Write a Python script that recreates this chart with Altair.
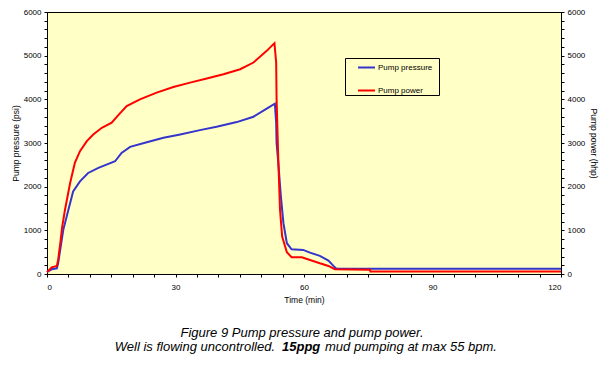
import altair as alt
import pandas as pd

# Pump pressure (psi) - left axis
p_time = [0, 1.1, 2.3, 2.6, 3.2, 3.8, 5.0, 6.1, 7.7, 9.6, 12.0, 13.9, 15.9, 17.4, 19.4,
          23.3, 27.2, 31.1, 35.7, 39.6, 44.3, 48.2, 51.3, 53.2, 53.5, 53.6, 54.0, 54.6,
          55.2, 56.0, 57.1, 59.8, 61.4, 63.7, 65.7, 67.2, 67.6, 120]
p_val = [50, 108, 130, 245, 628, 1011, 1471, 1892, 2122, 2314, 2429, 2506, 2582, 2774, 2912,
         3019, 3119, 3195, 3295, 3372, 3479, 3602, 3786, 3900, 3464, 3004, 2544, 1778,
         1165, 705, 567, 552, 490, 414, 306, 153, 120, 120]

# Pump power (hhp) - right axis
w_time = [0, 1.1, 2.3, 2.6, 3.2, 3.5, 4.2, 5.4, 6.5, 7.7, 9.3, 10.8, 12.8, 15.1, 16.6,
          18.6, 21.7, 25.6, 29.5, 33.4, 37.3, 41.2, 45.1, 48.2, 51.3, 53.1, 53.5, 53.6,
          54.0, 54.4, 54.9, 56.0, 57.1, 59.5, 61.4, 63.7, 65.7, 67.2, 75.4, 75.5, 120]
w_val = [40, 153, 184, 322, 782, 1050, 1471, 2084, 2544, 2812, 3042, 3195, 3349, 3464, 3632,
         3846, 4000, 4153, 4283, 4383, 4475, 4575, 4690, 4843, 5110, 5287, 4843, 4000,
         2620, 1471, 857, 500, 383, 383, 322, 245, 184, 110, 100, 60, 60]

series_names = ["Pump pressure", "Pump power"]
series_colors = ["#3535CC", "#FF0000"]

df_p = pd.DataFrame({"t": p_time, "v": p_val, "series": series_names[0]})
df_w = pd.DataFrame({"t": w_time, "v": w_val, "series": series_names[1]})

FONT = "Liberation Sans"
YELLOW = "#FFFFC6"
CAP_SIZE = 13

xaxis = alt.Axis(values=list(range(0, 121, 5)),
                 labelExpr="datum.value % 30 == 0 ? datum.label : ''",
                 title="Time (min)", tickSize=3, labelPadding=6, titlePadding=4,
                 grid=False)
xscale = alt.Scale(domain=[0, 120], nice=False, zero=False)
yscale = alt.Scale(domain=[0, 6000], nice=False)
yvals = list(range(0, 6001, 200))
ylabel = "datum.value % 1000 == 0 ? datum.label : ''"

# invisible right-side legend title only widens the legend box
color = alt.Color("series:N",
                  scale=alt.Scale(domain=series_names, range=series_colors),
                  legend=alt.Legend(title="M", titleOrient="right", titleOpacity=0,
                                    titleFontSize=8, titlePadding=0,
                                    orient="none", legendX=298, legendY=46,
                                    symbolType="stroke", symbolSize=289,
                                    symbolStrokeWidth=2, labelFontSize=8,
                                    labelFont=FONT, fillColor=YELLOW,
                                    strokeColor="black", padding=0, rowPadding=9,
                                    symbolOffset=12, labelOffset=2))

left = alt.Chart(df_p).mark_line(strokeWidth=2, interpolate="linear").encode(
    x=alt.X("t:Q", scale=xscale, axis=xaxis),
    y=alt.Y("v:Q", scale=yscale,
            axis=alt.Axis(orient="left", values=yvals, labelExpr=ylabel,
                          title="Pump pressure (psi)", tickSize=3, labelPadding=3,
                          titlePadding=3, grid=False, format="d")),
    color=color,
)

right = alt.Chart(df_w).mark_line(strokeWidth=2, interpolate="linear").encode(
    x=alt.X("t:Q", scale=xscale, axis=xaxis),
    y=alt.Y("v:Q", scale=yscale,
            axis=alt.Axis(orient="right", values=yvals, labelExpr=ylabel,
                          title="Pump power (hhp)", tickSize=3, labelPadding=3,
                          titlePadding=4, grid=False, format="d")),
    color=color,
)

cap = pd.DataFrame({"a": [0]})
base_txt = alt.Chart(cap)
line1 = base_txt.mark_text(text="Figure 9 Pump pressure and pump power.", font=FONT,
                           fontSize=CAP_SIZE, fontStyle="italic", align="center",
                           baseline="middle").encode(x=alt.value(255), y=alt.value(321))
seg_a = base_txt.mark_text(text="Well is flowing uncontrolled.", font=FONT,
                           fontSize=CAP_SIZE, fontStyle="italic", align="right",
                           baseline="middle").encode(x=alt.value(228), y=alt.value(335))
seg_b = base_txt.mark_text(text="15ppg", font=FONT, fontSize=CAP_SIZE, fontStyle="italic",
                           fontWeight="bold", align="left",
                           baseline="middle").encode(x=alt.value(235), y=alt.value(335))
seg_c = base_txt.mark_text(text="mud pumping at max 55 bpm.", font=FONT,
                           fontSize=CAP_SIZE, fontStyle="italic", align="left",
                           baseline="middle").encode(x=alt.value(278), y=alt.value(335))

chart = alt.layer(left, right, line1, seg_a, seg_b, seg_c).resolve_scale(
    y="independent"
).properties(
    width=514, height=262,
    autosize=alt.AutoSizeParams(type="none"),
    padding={"left": 39, "top": 4, "right": 40, "bottom": 80},
    background="white",
).configure_view(
    fill=YELLOW, stroke="black", strokeWidth=1
).configure_axis(
    labelFont=FONT, labelFontSize=8, titleFont=FONT, titleFontSize=8.5,
    titleFontWeight="normal", labelColor="black", titleColor="black",
    domainColor="black", tickColor="black",
)

chart.save("out.html", embed_options={"renderer": "svg", "actions": False})
